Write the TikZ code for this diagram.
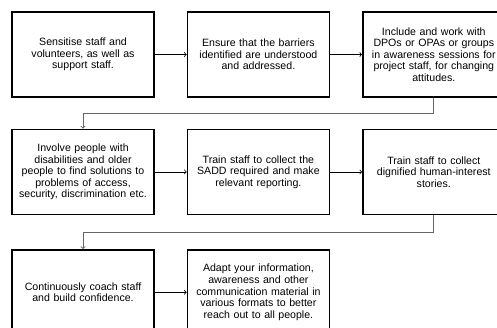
\documentclass[tikz,border=0pt]{standalone}
\usepackage{fontspec}
\setmainfont{Liberation Sans}
\usepackage{tikz}
\usetikzlibrary{arrows,positioning,calc}

\begin{document}
\begin{tikzpicture}[
    x=1pt, y=1pt,
    node distance=32pt,
    stepbox/.style={rectangle, draw, line width=1.4pt, text width=140pt, align=center, minimum width=142pt, minimum height=85pt, inner sep=0pt, font=\fontsize{10.6}{11.6}\selectfont},
    link/.style={->, line width=0.8pt},
    wrap/.style={->, line width=0.9pt, draw=black!60}
]
    \useasboundingbox (0,0) rectangle (497,-327);

    \node[stepbox] (sens) at (83,-54.5) {Sensitise staff and\\volunteers,  as well as\\support staff.};
    \node[stepbox, right=of sens] (ensure) {Ensure that the barriers\\identified are understood\\and addressed.};
    \node[stepbox, right=of ensure] (incl) {Include  and work with\\DPOs or OPAs or groups\\in awareness sessions for\\project staff, for changing\\attitudes.};

    \node[stepbox, below=31pt of sens] (involve) {Involve  people with\\disabilities and older\\people to find solutions to\\problems of access,\\security,  discrimination etc.};
    \node[stepbox, right=of involve] (sadd) {Train staff to collect the\\SADD required and make\\relevant  reporting.};
    \node[stepbox, right=of sadd] (stories) {Train staff to collect\\dignified human-interest\\stories.};

    \node[stepbox, below=34pt of involve] (coach) {Continuously  coach staff\\and build confidence.};
    \node[stepbox, right=of coach] (adapt) {Adapt your  information,\\awareness and other\\communication material in\\various formats to better\\reach out to all people.};

    \draw[link] (sens) -- (ensure);
    \draw[link] (ensure) -- (incl);
    \draw[wrap] (incl.south) -- ++(0,-15.5) -| (involve.north);

    \draw[link] (involve) -- (sadd);
    \draw[link] (sadd) -- (stories);
    \draw[wrap] (stories.south) -- ++(0,-17) -| (coach.north);

    \draw[link] (coach) -- (adapt);
\end{tikzpicture}
\end{document}
